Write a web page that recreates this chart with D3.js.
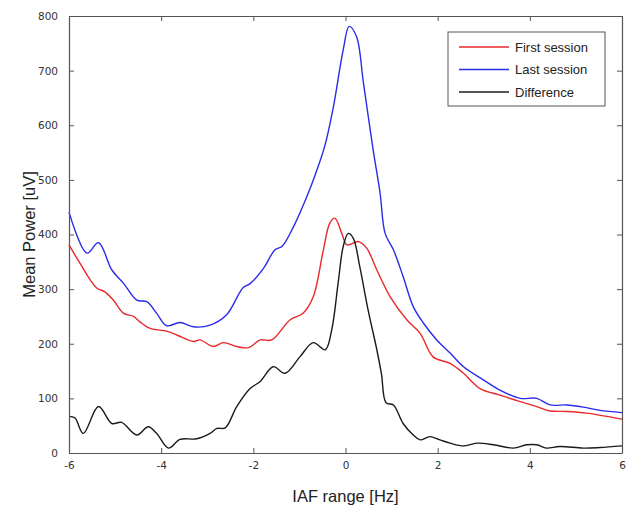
<!DOCTYPE html>
<html>
<head>
<meta charset="utf-8">
<script src="https://cdn.jsdelivr.net/npm/d3@7"></script>
<style>
  body { margin: 0; background: #fff; }
  #wrapper { width: 632px; height: 507px; }
  .tick text { font-family: "DejaVu Sans", sans-serif; font-size: 10.5px; fill: #333; }
</style>
</head>
<body>
<div id="wrapper"></div>
<script>
// First session (red)
const firstX = [-6, -5.76, -5.54, -5.4, -5.22, -5.04, -4.82, -4.6, -4.46, -4.24, -3.88, -3.66, -3.3, -3.16, -2.87, -2.65, -2.36, -2.1, -1.85, -1.6, -1.2, -0.92, -0.7, -0.48, -0.34, -0.23, -0.08, 0.03, 0.28, 0.46, 0.68, 0.97, 1.33, 1.62, 1.9, 2.27, 2.56, 2.92, 3.35, 3.79, 4.15, 4.44, 4.8, 5.23, 6]
const firstY = [381, 347, 317, 302, 295, 280, 256, 250, 240, 228, 223, 216, 204, 207, 195, 202, 195, 193, 207, 207, 244, 256, 286, 372, 421, 430, 402, 381, 387, 375, 335, 286, 244, 219, 176, 164, 146, 118, 106, 94, 85, 77, 76, 73, 62]

// Last session (blue)
const lastX = [-6, -5.61, -5.36, -5.07, -4.82, -4.53, -4.31, -4.1, -3.88, -3.59, -3.3, -2.94, -2.58, -2.22, -2.07, -1.78, -1.53, -1.38, -1.13, -0.84, -0.62, -0.44, -0.26, -0.05, 0.08, 0.24, 0.39, 0.6, 0.75, 0.86, 1.04, 1.25, 1.47, 1.69, 1.98, 2.27, 2.56, 2.99, 3.35, 3.79, 4.15, 4.44, 4.8, 5.16, 5.52, 6]
const lastY = [441, 366, 385, 335, 311, 280, 277, 256, 233, 239, 231, 234, 253, 303, 310, 338, 372, 378, 414, 469, 518, 565, 635, 738, 781, 762, 677, 555, 476, 402, 372, 323, 268, 238, 207, 183, 158, 134, 115, 100, 100, 88, 88, 84, 78, 74]

// Difference (black)
const diffX = [-6, -5.87, -5.69, -5.36, -5.07, -4.86, -4.53, -4.28, -4.1, -3.84, -3.59, -3.23, -2.94, -2.79, -2.61, -2.36, -2.07, -1.85, -1.57, -1.31, -0.99, -0.7, -0.44, -0.3, -0.16, -0.05, 0.06, 0.17, 0.31, 0.49, 0.68, 0.78, 0.88, 1.04, 1.25, 1.47, 1.62, 1.83, 2.05, 2.27, 2.56, 2.85, 3.21, 3.64, 3.93, 4.15, 4.36, 4.65, 5.16, 5.52, 6]
const diffY = [67, 64, 36, 85, 54, 56, 33, 48, 36, 9, 25, 26, 36, 45, 46, 85, 118, 131, 158, 146, 176, 202, 189, 225, 311, 378, 402, 393, 341, 262, 189, 145, 92, 88, 54, 33, 24, 30, 24, 18, 13, 18, 15, 9, 15, 15, 9, 12, 9, 10, 13]

const xTicks = [-6, -4, -2, 0, 2, 4, 6]
const yTicks = [0, 100, 200, 300, 400, 500, 600, 700, 800]

const seriesNames = ["First session", "Last session", "Difference"]
const seriesColors = ["#e8282b", "#2b2bea", "#1a1a1a"]

function drawChart() {
  let dimensions = {
    width: 632,
    height: 507,
    margin: { top: 16, right: 10, bottom: 54, left: 69 },
  }
  dimensions.boundedWidth = dimensions.width - dimensions.margin.left - dimensions.margin.right
  dimensions.boundedHeight = dimensions.height - dimensions.margin.top - dimensions.margin.bottom

  const xScale = d3.scaleLinear()
    .domain([-6, 6])
    .range([0, dimensions.boundedWidth])

  const yScale = d3.scaleLinear()
    .domain([0, 800])
    .range([dimensions.boundedHeight, 0])

  const wrapper = d3.select("#wrapper")
    .append("svg")
    .attr("width", dimensions.width)
    .attr("height", dimensions.height)

  const bounds = wrapper.append("g")
    .attr("transform", `translate(${dimensions.margin.left},${dimensions.margin.top})`)

  const series = [
    d3.zip(firstX, firstY),
    d3.zip(lastX, lastY),
    d3.zip(diffX, diffY),
  ]

  const lineGenerator = d3.line()
    .x(d => xScale(d[0]))
    .y(d => yScale(d[1]))
    .curve(d3.curveCatmullRom.alpha(0.5))

  bounds.selectAll(".series")
    .data(series)
    .join("path")
    .attr("class", "series")
    .attr("d", lineGenerator)
    .attr("fill", "none")
    .attr("stroke", (d, i) => seriesColors[i])
    .attr("stroke-width", 1.4)

  // axes, matlab style: ticks inward on all four sides
  const tickColor = "#555"
  const fmt = d => String(d)
  const xAxis = bounds.append("g")
    .attr("transform", `translate(0,${dimensions.boundedHeight})`)
    .call(d3.axisBottom(xScale).tickValues(xTicks).tickSizeInner(-5).tickSizeOuter(0).tickPadding(12).tickFormat(fmt))
  const xAxisTop = bounds.append("g")
    .call(d3.axisTop(xScale).tickValues(xTicks).tickSizeInner(-5).tickSizeOuter(0).tickFormat(""))
  const yAxis = bounds.append("g")
    .call(d3.axisLeft(yScale).tickValues(yTicks).tickSizeInner(-5).tickSizeOuter(0).tickPadding(11).tickFormat(fmt))
  const yAxisRight = bounds.append("g")
    .attr("transform", `translate(${dimensions.boundedWidth},0)`)
    .call(d3.axisRight(yScale).tickValues(yTicks).tickSizeInner(-5).tickSizeOuter(0).tickFormat(""))

  ;[xAxis, xAxisTop, yAxis, yAxisRight].forEach(ax => {
    ax.select(".domain").attr("stroke", tickColor).attr("stroke-width", 1.2)
    ax.selectAll(".tick line").attr("stroke", tickColor)
  })
  xAxis.selectAll(".tick text").attr("dy", "0.4em")

  // axis labels
  wrapper.append("text")
    .attr("x", dimensions.margin.left + xScale(0))
    .attr("y", 502)
    .attr("text-anchor", "middle")
    .style("font-family", "Liberation Sans, Arial, sans-serif")
    .style("font-size", "16.5px")
    .attr("fill", "#222")
    .text("IAF range [Hz]")

  wrapper.append("text")
    .attr("transform", `translate(35,${dimensions.margin.top + yScale(400)}) rotate(-90)`)
    .attr("text-anchor", "middle")
    .style("font-family", "Liberation Sans, Arial, sans-serif")
    .style("font-size", "16.5px")
    .attr("fill", "#222")
    .text("Mean Power [uV]")

  // legend
  const legend = bounds.append("g")
    .attr("transform", `translate(${448 - dimensions.margin.left},${32 - dimensions.margin.top})`)
  legend.append("rect")
    .attr("width", 157)
    .attr("height", 74)
    .attr("fill", "#fff")
    .attr("stroke", "#555")
    .attr("stroke-width", 1)
  seriesNames.forEach((name, i) => {
    const y = 15 + i * 22.5
    legend.append("line")
      .attr("x1", 11).attr("x2", 61)
      .attr("y1", y).attr("y2", y)
      .attr("stroke", seriesColors[i])
      .attr("stroke-width", 1.4)
    legend.append("text")
      .attr("x", 67)
      .attr("y", y)
      .attr("dy", "0.35em")
      .style("font-family", "Liberation Sans, Arial, sans-serif")
      .style("font-size", "13px")
      .attr("fill", "#222")
      .text(name)
  })
}

drawChart()
</script>
</body>
</html>
